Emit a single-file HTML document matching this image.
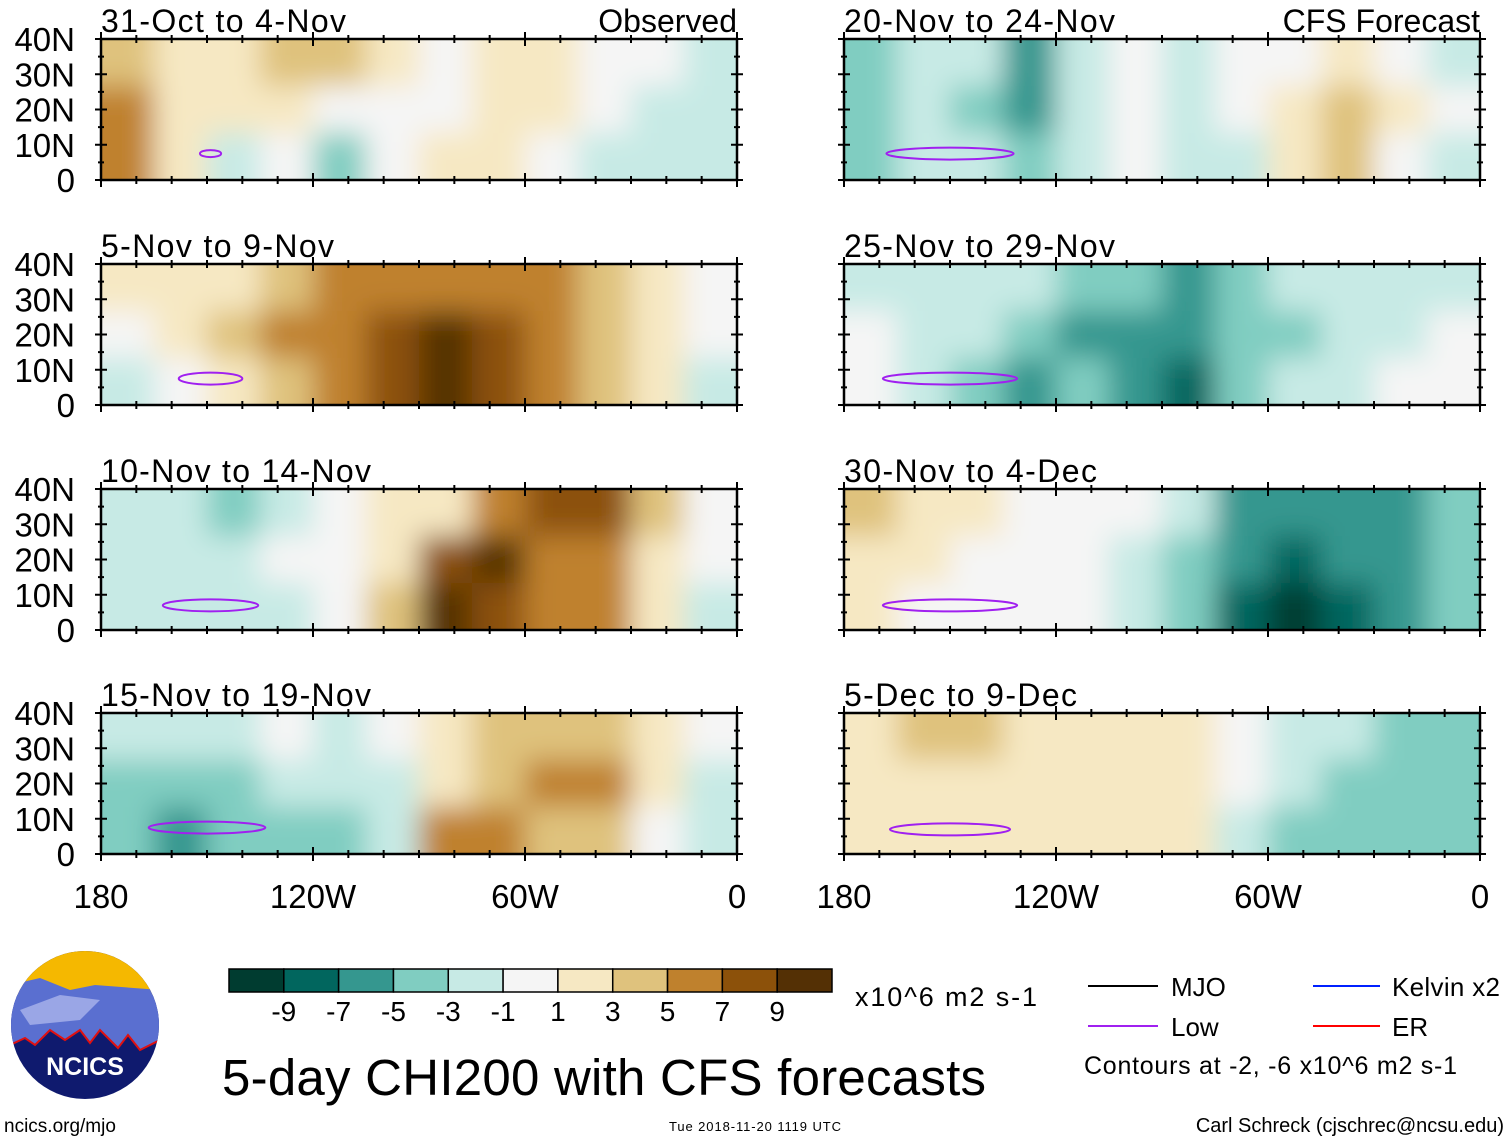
<!DOCTYPE html>
<html><head><meta charset="utf-8"><style>
body{margin:0;background:#fff;}
svg{display:block;font-family:"Liberation Sans",sans-serif;}
</style></head><body>
<svg id="fig" width="1510" height="1141" viewBox="0 0 1510 1141" xmlns="http://www.w3.org/2000/svg">
<defs>
<filter id="blur" x="-20%" y="-20%" width="140%" height="140%"><feGaussianBlur stdDeviation="14"/></filter>
</defs>
<g id="panels"></g>
<g id="bottomlabels"></g>
<g id="colorbar"></g>
<text x="855" y="1006" font-size="27" textLength="182">x10^6 m2 s-1</text>
<text x="222" y="1095" font-size="51" textLength="764">5-day CHI200 with CFS forecasts</text>
<text x="4" y="1132" font-size="19">ncics.org/mjo</text>
<text x="669" y="1131" font-size="13" textLength="172">Tue 2018-11-20 1119 UTC</text>
<text x="1504" y="1132" font-size="20" text-anchor="end">Carl Schreck (cjschrec@ncsu.edu)</text>
<g>
<line x1="1088" y1="986" x2="1158" y2="986" stroke="#000" stroke-width="2"/>
<text x="1171" y="996" font-size="26">MJO</text>
<line x1="1313" y1="986" x2="1380" y2="986" stroke="#0020ff" stroke-width="2"/>
<text x="1392" y="996" font-size="26" textLength="108">Kelvin x2</text>
<line x1="1088" y1="1026" x2="1158" y2="1026" stroke="#a020f0" stroke-width="2"/>
<text x="1171" y="1036" font-size="26">Low</text>
<line x1="1313" y1="1026" x2="1380" y2="1026" stroke="#ff0000" stroke-width="2"/>
<text x="1392" y="1036" font-size="26">ER</text>
<text x="1084" y="1074" font-size="25" textLength="373">Contours at -2, -6 x10^6 m2 s-1</text>
</g>
<g>
<clipPath id="logoclip"><ellipse cx="85" cy="1025" rx="74" ry="74"/></clipPath>
<g clip-path="url(#logoclip)">
<rect x="10" y="950" width="150" height="150" fill="#0f1a6e"/>
<rect x="10" y="950" width="150" height="45" fill="#f5b800"/>
<path d="M10 985 L40 978 L70 990 L95 985 L160 990 L160 1040 L140 1050 L128 1035 L118 1048 L100 1030 L90 1043 L80 1030 L65 1040 L50 1030 L35 1045 L25 1038 L10 1045 Z" fill="#5a6fd0"/>
<path d="M20 1010 L60 995 L100 1000 L80 1020 L30 1025 Z" fill="#9aa6e6"/>
<path d="M10 1045 L25 1038 L35 1045 L50 1030 L65 1040 L80 1030 L90 1043 L100 1030 L118 1048 L128 1035 L140 1050 L160 1040" fill="none" stroke="#e01010" stroke-width="2"/>
</g>
<text x="85" y="1075" font-size="25" font-weight="bold" fill="#fff" text-anchor="middle">NCICS</text>
</g>
</svg>
<script>
// colorbar data
const levels = [-9,-7,-5,-3,-1,1,3,5,7,9];
const colors = ["#003c30","#01665e","#35978f","#80cdc1","#c7eae5","#f5f5f5","#f6e8c3","#dfc27d","#bf812d","#8c510a","#543005"];
// panel titles
const titles = ["31-Oct to 4-Nov","5-Nov to 9-Nov","10-Nov to 14-Nov","15-Nov to 19-Nov","20-Nov to 24-Nov","25-Nov to 29-Nov","30-Nov to 4-Dec","5-Dec to 9-Dec"];
const titleWidths = [245,233,270,270,271,271,253,233];
const latLabels = ["40N","30N","20N","10N","0"];
const lonLabels = ["180","120W","60W","0"];
const lonTicks = [180,120,60,0];
// CHI200 anomaly grids: 12 lon bins (180->0, 15deg each) x 3 lat rows (top, mid, bottom)
const p1 = [[3,2,2,4,3,1,0,2,2,0,-1,-2],[6,2,1,1,-1,-1,0,1,1,0,-2,-3],[6,2,-2,0,-4,-1,1,2,0,-2,-2,-3]];
const p2 = [[2,2,1,3,5,6,6,5,5,4,2,0],[0,2,4,5,6,8,9,7,5,4,2,0],[-2,0,2,3,5,8,11,8,5,3,1,-2]];
const p3 = [[-2,-3,-4,-2,0,1,2,6,8,7,3,0],[-3,-2,-3,-1,0,2,7,9,6,5,2,-1],[-3,-2,-3,-2,0,3,9,8,6,5,2,-2]];
const p4 = [[-3,-2,-2,-1,-2,-1,1,3,3,4,2,0],[-4,-5,-4,-3,-3,-2,2,4,5,6,2,-2],[-4,-7,-5,-4,-4,-2,6,5,3,3,0,-3]];
const p5 = [[-4,-2,-2,-6,-3,0,-2,-1,0,2,0,-2],[-5,-3,-4,-7,-3,0,-2,-1,2,4,1,-1],[-5,-3,-3,-5,-2,0,-2,-3,1,3,0,-2]];
const p6 = [[-2,-3,-3,-3,-4,-5,-7,-5,-3,-3,-2,-2],[-1,-2,-3,-4,-6,-7,-7,-5,-4,-3,-2,-1],[0,-2,-5,-7,-4,-6,-8,-5,-3,-3,-1,-1]];
const p7 = [[3,2,1,0,0,-1,-3,-6,-7,-7,-6,-5],[1,1,0,0,0,-2,-5,-7,-8,-7,-6,-5],[1,0,-1,0,0,-2,-5,-8,-10,-8,-6,-5]];
const p8 = [[2,3,3,2,1,1,1,0,-2,-3,-4,-4],[1,2,2,2,1,1,1,-1,-3,-4,-5,-5],[1,1,2,2,1,1,2,-2,-4,-5,-5,-5]];
const grids = [p1,p2,p3,p4,p5,p6,p7,p8];
// "Low" contours: center lon (deg W), center lat, width (deg lon)
const lowLon = [149,149,149,150,150,150,150,150];
const lowLat = [7.5,7.5,7,7.5,7.5,7.5,7,7];
const lowWidth = [6,18,27,33,36,38,38,34];

const NS="http://www.w3.org/2000/svg";
function mk(tag,attrs,parent){const e=document.createElementNS(NS,tag);for(const k in attrs)e.setAttribute(k,attrs[k]);if(parent)parent.appendChild(e);return e;}
function colorOf(v){let i=0;while(i<levels.length&&v>=levels[i])i++;return colors[i];}
const colX=[101,844], rowY=[39,264,489,713], PW=636, PH=141;
function xScale(lonW,x0){return x0+(180-lonW)/180*PW;}
function yScale(lat,y0){return y0+(40-lat)/40*PH;}
const panels=document.getElementById('panels');
grids.forEach((g,pi)=>{
  const x0=colX[pi<4?0:1], y0=rowY[pi%4];
  const grp=mk('g',{},panels);
  
  
  const cp=mk('clipPath',{id:'cp'+pi},grp);
  mk('rect',{x:x0,y:y0,width:PW,height:PH},cp);
  const cg=mk('g',{'clip-path':'url(#cp'+pi+')'},grp);
  const fg=mk('g',{filter:'url(#blur)'},cg);
  const nc=g[0].length,nr=g.length;
  g.forEach((row,r)=>row.forEach((v,c)=>{
    const lonL=180-c*180/nc, lonR=180-(c+1)*180/nc;
    const latT=40-r*40/nr, latB=40-(r+1)*40/nr;
    const ext=(c==0?-40:0), extR=(c==nc-1?40:0), extT=(r==0?-40:0), extB=(r==nr-1?40:0);
    const x=xScale(lonL,x0)+ext, y=yScale(latT,y0)+extT;
    const rc=mk('rect',{x:x,y:y,width:xScale(lonR,x0)-xScale(lonL,x0)-ext+extR+1,height:yScale(latB,y0)-yScale(latT,y0)-extT+extB+1,fill:colorOf(v)},fg);
    
    
  }));
  // low contour
  const lw=lowWidth[pi];
  const el=mk('ellipse',{cx:xScale(lowLon[pi],x0),cy:yScale(lowLat[pi],y0),rx:lw/180*PW/2,ry:lw>10?6:3.5,fill:'none',stroke:'#a020f0','stroke-width':2},cg);
  
  
  // frame
  const fr=mk('rect',{x:x0,y:y0,width:PW,height:PH,fill:'none',stroke:'#000','stroke-width':2.5},grp);
  
  
  // ticks
  for(let lon=180;lon>=0;lon-=10){
    const x=xScale(lon,x0), L=(lon%60==0)?7:4;
    mk('line',{x1:x,y1:y0-L,x2:x,y2:y0+L,stroke:'#000','stroke-width':2},grp);
    mk('line',{x1:x,y1:y0+PH-L,x2:x,y2:y0+PH+L,stroke:'#000','stroke-width':2},grp);
  }
  for(let lat=0;lat<=40;lat+=5){
    const y=yScale(lat,y0), L=(lat%10==0)?6:3;
    mk('line',{x1:x0-L,y1:y,x2:x0+L,y2:y,stroke:'#000','stroke-width':2},grp);
    mk('line',{x1:x0+PW-L,y1:y,x2:x0+PW+L,y2:y,stroke:'#000','stroke-width':2},grp);
  }
  const t=mk('text',{x:x0,y:y0-7,'font-size':32,textLength:titleWidths[pi]},grp);t.textContent=titles[pi];
  
  
  if(pi==0||pi==4){
    const s=mk('text',{x:x0+PW,y:y0-7,'font-size':32,'text-anchor':'end'},grp);s.textContent=pi==0?'Observed':'CFS Forecast';
    
    
  }
  if(pi<4){
    latLabels.forEach((lb,i)=>{
      const tx=mk('text',{x:75,y:yScale(40-i*10,y0)+12,'font-size':33,'text-anchor':'end'},grp);tx.textContent=lb;
      
      
    });
  }
});
const bl=document.getElementById('bottomlabels');
colX.forEach(x0=>lonTicks.forEach((lon,i)=>{
  const t=mk('text',{x:xScale(lon,x0),y:908,'font-size':33,'text-anchor':'middle'},bl);t.textContent=lonLabels[i];
  
  
}));
const cb=document.getElementById('colorbar');
const cbx=229,cbw=603,cby=969,cbh=23,bw=cbw/colors.length;
colors.forEach((c,i)=>{
  const r=mk('rect',{x:cbx+i*bw,y:cby,width:bw,height:cbh,fill:c,stroke:'#000','stroke-width':1.5},cb);
  
  
});
levels.forEach((l,i)=>{
  const t=mk('text',{x:cbx+(i+1)*bw,y:1021,'font-size':28,'text-anchor':'middle'},cb);t.textContent=l;
  
  
});
</script>
</body></html>
